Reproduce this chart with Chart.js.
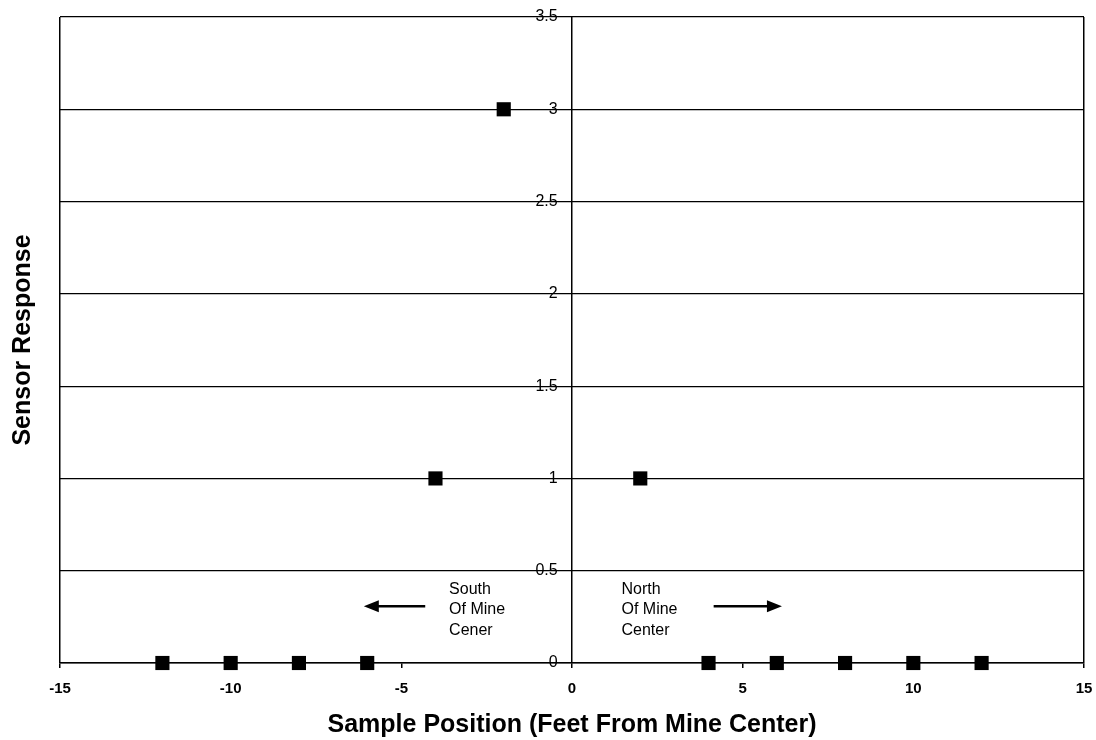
<!DOCTYPE html>
<html lang="en">
<head>
  <meta charset="UTF-8" />
  <title>Sensor Response vs Sample Position</title>
  <style>
    body {
      margin: 0;
      padding: 0;
      background-color: #ffffff;
    }

    .chart-box {
      width: 1096px;
      height: 740px;
    }
  </style>
</head>
<body>
  <div class="chart-box">
    <canvas id="chart"></canvas>
  </div>

  <script src="https://cdn.jsdelivr.net/npm/chart.js"></script>
  <script>
    // sample positions (feet from mine center) and sensor readings
    const positions = [-12, -10, -8, -6, -4, -2, 2, 4, 6, 8, 10, 12];
    const responses = [0, 0, 0, 0, 1, 3, 1, 0, 0, 0, 0, 0];

    const xTicks = [-15, -10, -5, 0, 5, 10, 15];
    const yTicks = [0, 0.5, 1, 1.5, 2, 2.5, 3, 3.5];

    // text notes with arrows, in data units
    const noteLines = [
      { x: -3.6, y: 0.40, text: 'South' },
      { x: -3.6, y: 0.29, text: 'Of Mine' },
      { x: -3.6, y: 0.178, text: 'Cener' },
      { x: 1.45, y: 0.40, text: 'North' },
      { x: 1.45, y: 0.29, text: 'Of Mine' },
      { x: 1.45, y: 0.178, text: 'Center' },
    ];
    const noteArrows = [
      { from: -4.3, to: -6.1, y: 0.308 },
      { from: 4.15, to: 6.15, y: 0.308 },
    ];

    const fontFamily = 'Arial, "Liberation Sans", sans-serif';

    const points = positions.map((p, i) => ({ x: p, y: responses[i] }));

    const notesPlugin = {
      id: 'notes',
      afterDatasetsDraw(chart) {
        const c = chart.ctx;
        const xs = chart.scales.x;
        const ys = chart.scales.y;
        c.save();
        c.fillStyle = '#000';
        c.strokeStyle = '#000';
        c.font = '16px ' + fontFamily;
        c.textAlign = 'left';
        c.textBaseline = 'middle';
        noteLines.forEach((n) => {
          c.fillText(n.text, xs.getPixelForValue(n.x), ys.getPixelForValue(n.y));
        });
        noteArrows.forEach((a) => {
          const x1 = xs.getPixelForValue(a.from);
          const x2 = xs.getPixelForValue(a.to);
          const y = ys.getPixelForValue(a.y);
          const dir = x2 > x1 ? 1 : -1;
          c.lineWidth = 2.5;
          c.beginPath();
          c.moveTo(x1, y);
          c.lineTo(x2 - dir * 10, y);
          c.stroke();
          c.beginPath();
          c.moveTo(x2, y);
          c.lineTo(x2 - dir * 15, y - 6);
          c.lineTo(x2 - dir * 15, y + 6);
          c.closePath();
          c.fill();
        });
        c.restore();
      },
    };

    new Chart(document.getElementById('chart'), {
      type: 'scatter',
      data: {
        datasets: [
          {
            label: 'Sensor Response',
            data: points,
            pointStyle: 'rect',
            pointRadius: 10,
            pointHoverRadius: 10,
            backgroundColor: '#000',
            borderColor: '#000',
            borderWidth: 0,
            clip: false,
          },
        ],
      },
      options: {
        responsive: true,
        maintainAspectRatio: false,
        animation: false,
        layout: {
          padding: { left: 8, right: 12, top: 17, bottom: 0 },
        },
        plugins: {
          legend: { display: false },
          tooltip: { enabled: false },
        },
        scales: {
          x: {
            type: 'linear',
            position: 'bottom',
            min: -15,
            max: 15,
            afterBuildTicks: (axis) => {
              axis.ticks = xTicks.map((v) => ({ value: v }));
            },
            // the end label overflow is covered by the layout padding
            afterFit: (axis) => {
              axis.paddingRight = 0;
            },
            ticks: {
              color: '#000',
              padding: 12,
              font: { family: fontFamily, size: 15, weight: 'bold' },
            },
            grid: {
              color: (ctx) =>
                ctx.tick && (ctx.tick.value === -15 || ctx.tick.value === 15) ? '#000' : 'rgba(0,0,0,0)',
              tickColor: '#000',
              tickLength: 5,
              lineWidth: 1.5,
            },
            border: { display: true, color: '#000', width: 1.5 },
            title: {
              display: true,
              text: 'Sample Position (Feet From Mine Center)',
              color: '#000',
              font: { family: fontFamily, size: 25, weight: 'bold' },
              padding: { top: 0, bottom: 0 },
            },
          },
          // axis line and horizontal grid at x = 0
          y: {
            type: 'linear',
            position: { x: 0 },
            min: 0,
            max: 3.5,
            afterBuildTicks: (axis) => {
              axis.ticks = yTicks.map((v) => ({ value: v }));
            },
            ticks: { display: false },
            grid: {
              color: '#000',
              lineWidth: 1.2,
              drawTicks: false,
            },
            border: { display: true, color: '#000', width: 1.5 },
          },
          // tick labels, set just left of the centre axis
          yLabels: {
            type: 'linear',
            position: { x: -0.42 },
            min: 0,
            max: 3.5,
            afterBuildTicks: (axis) => {
              axis.ticks = yTicks.map((v) => ({ value: v }));
            },
            ticks: {
              color: '#000',
              padding: 0,
              font: { family: fontFamily, size: 16 },
              callback: (v) => String(v),
            },
            grid: { display: false },
            border: { display: false },
          },
          yTitle: {
            type: 'linear',
            position: 'left',
            min: 0,
            max: 3.5,
            ticks: { display: false },
            grid: { display: false },
            border: { display: false },
            title: {
              display: true,
              text: 'Sensor Response',
              color: '#000',
              font: { family: fontFamily, size: 25, weight: 'bold' },
              padding: { top: 0, bottom: 14 },
            },
          },
        },
      },
      plugins: [notesPlugin],
    });
  </script>
</body>
</html>
